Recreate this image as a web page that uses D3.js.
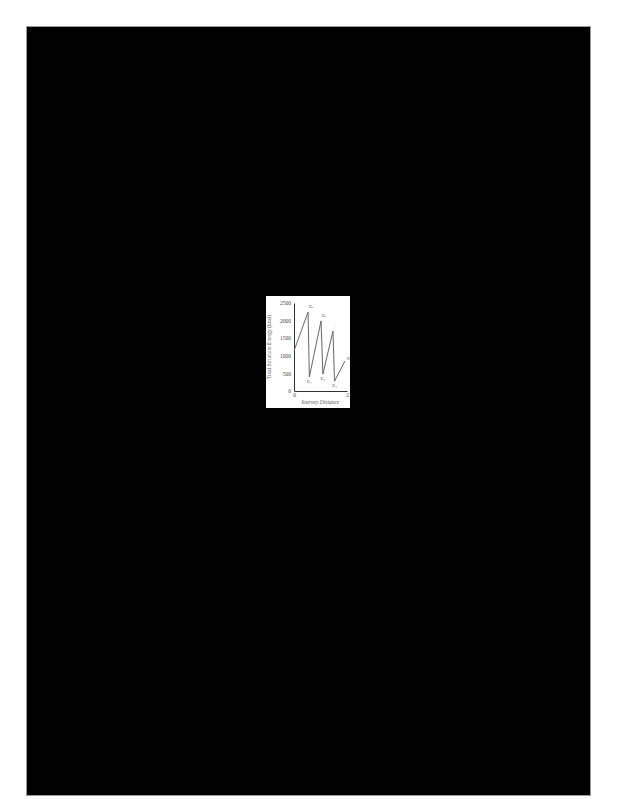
<!DOCTYPE html>
<html>
<head>
<meta charset="utf-8">
<script src="https://cdn.jsdelivr.net/npm/d3@7"></script>
<style>
  html, body { margin: 0; padding: 0; background: #fff; }
  svg { display: block; }
  text { font-family: "Liberation Serif", "DejaVu Serif", serif; }
</style>
</head>
<body>
<svg id="chart" width="617" height="799"></svg>
<script>
// ---- data ----
const xValues = [0, 0.53, 0.58, 1.02, 1.09, 1.47, 1.53, 1.92];
const yValues = [1140, 2240, 400, 1990, 480, 1700, 280, 850];
const yTicks = [0, 500, 1000, 1500, 2000, 2500];
const xTicks = [0, 2];
const pointLabels = ["", "Eₐ", "E₁", "Eₐ", "E₂", "ᵢ", "E₃", "-E"];
const yTitle = "Total Structure Energy (kcal)";
const xTitle = "Journey Distance";

const svg = d3.select("#chart");

// page frame
svg.append("rect").attr("x", 26.5).attr("y", 26.5).attr("width", 564).attr("height", 769)
  .attr("fill", "#000").attr("stroke", "#9a9a9a").attr("stroke-width", 1);

// white figure panel
svg.append("rect").attr("x", 266).attr("y", 296).attr("width", 84).attr("height", 112)
  .attr("fill", "#fff");

const x = d3.scaleLinear().domain([0, 2]).range([294, 347]);
const y = d3.scaleLinear().domain([0, 2500]).range([391, 303]);

// axes
const gy = svg.append("g").attr("transform", `translate(${x(0)},0)`)
  .call(d3.axisLeft(y).tickValues(yTicks).tickSize(0).tickPadding(3).tickFormat(d3.format("d")));
const gx = svg.append("g").attr("transform", `translate(0,${y(0)})`)
  .call(d3.axisBottom(x).tickValues(xTicks).tickSize(0).tickPadding(2).tickFormat(d3.format("d")));
[gy, gx].forEach(g => {
  g.select(".domain").attr("stroke", "#333").attr("stroke-width", 1);
  g.selectAll("text").attr("font-size", 5.5).attr("fill", "#444")
    .attr("font-family", "Liberation Serif, serif");
});

// axis titles
svg.append("text").attr("transform", `translate(271,${(y(0) + y(2500)) / 2}) rotate(-90)`)
  .attr("text-anchor", "middle").attr("font-size", 5.5).attr("fill", "#555")
  .text(yTitle);
svg.append("text").attr("x", 320).attr("y", 404)
  .attr("text-anchor", "middle").attr("font-size", 5.5).attr("font-style", "italic").attr("fill", "#555")
  .text(xTitle);

// line
const pts = xValues.map((v, i) => [v, yValues[i]]);
svg.append("path").datum(pts)
  .attr("fill", "none").attr("stroke", "#666").attr("stroke-width", 1)
  .attr("d", d3.line().x(d => x(d[0])).y(d => y(d[1])));

// point labels
const labelOffsets = pts.map((d, i) => {
  if (i === 0) return [0, 0];
  if (i === pts.length - 1) return [3, -1];
  return (i % 2 === 1) ? [3, -4] : [0, 6];
});
svg.append("g").selectAll("text").data(pts).join("text")
  .attr("x", (d, i) => x(d[0]) + labelOffsets[i][0])
  .attr("y", (d, i) => y(d[1]) + labelOffsets[i][1])
  .attr("font-size", 4.8).attr("fill", "#555").attr("text-anchor", "middle")
  .text((d, i) => pointLabels[i]);
</script>
</body>
</html>
